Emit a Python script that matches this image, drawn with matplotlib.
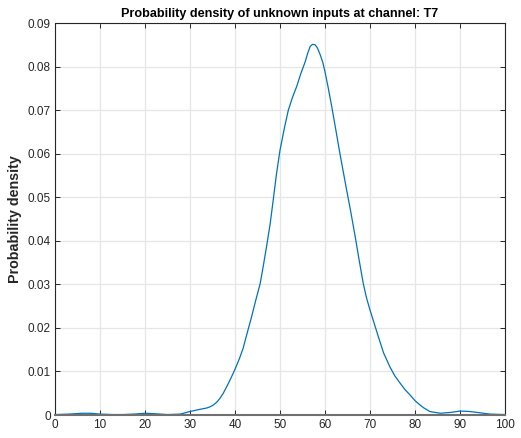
import matplotlib
matplotlib.use("Agg")
import matplotlib.pyplot as plt

x_vals = [0, 3, 6, 8, 10, 13, 15, 17.5, 20, 22, 25, 27.8, 30, 32.2, 33.7, 34.5, 35.2,
          36, 36.7, 37.4, 38.5, 39.2, 40, 41, 41.8, 42.7, 43.7, 44.6, 45.6, 46.3, 47,
          47.8, 48.5, 49.2, 50, 51, 51.85, 52.8, 53.7, 54.6, 55.6, 56.2, 56.7, 57.2,
          57.8, 58.3, 58.9, 59.5, 60, 60.7, 61.5, 62.4, 63.3, 64.8, 65.7, 66.7, 67.6,
          68.5, 69.2, 70, 71.85, 73, 74.4, 75.5, 76.7, 77.8, 78.9, 80, 81, 82, 83.3,
          85.6, 88, 90, 92.2, 94.5, 96.7, 100]
density = [0.0001, 0.0002, 0.0004, 0.0004, 0.0002, 0.0001, 0.0001, 0.0002, 0.0004,
           0.0003, 0.0001, 0.0002, 0.0008, 0.0013, 0.0016, 0.0019, 0.0023, 0.0030,
           0.0039, 0.0050, 0.0072, 0.0087, 0.0105, 0.0130, 0.0153, 0.0188, 0.0226,
           0.0263, 0.0302, 0.0343, 0.0386, 0.0438, 0.0494, 0.0552, 0.0608, 0.0660,
           0.0700, 0.0730, 0.0754, 0.0783, 0.0811, 0.0832, 0.0846, 0.0851, 0.0850,
           0.0843, 0.0828, 0.0810, 0.0788, 0.0752, 0.0708, 0.0655, 0.0601, 0.0517,
           0.0468, 0.0410, 0.0355, 0.0302, 0.0270, 0.0241, 0.0180, 0.0143, 0.0111,
           0.0090, 0.0073, 0.0058, 0.0046, 0.0033, 0.0024, 0.0016, 0.0008, 0.0004,
           0.0006, 0.0009, 0.0008, 0.0005, 0.0002, 0.0001]
xticks = list(range(0, 101, 10))
yticks = [0, 0.01, 0.02, 0.03, 0.04, 0.05, 0.06, 0.07, 0.08, 0.09]
ytick_labels = ["0", "0.01", "0.02", "0.03", "0.04", "0.05", "0.06", "0.07", "0.08", "0.09"]
title = "Probability density of unknown inputs at channel: T7"
ylabel = "Probability density"

plt.rcParams['font.family'] = ['Liberation Sans', 'DejaVu Sans']

fig = plt.figure(figsize=(5.21, 4.38), dpi=100)
ax = fig.add_axes([55/521, 1-415/438, 450/521, 392/438])
ax.plot(x_vals, density, color='#0072BD', lw=0.9)
ax.set_xlim(0, 100)
ax.set_ylim(0, 0.09)
ax.set_xticks(xticks)
ax.set_yticks(yticks)
ax.set_yticklabels(ytick_labels)
ax.grid(True, color='#e6e6e6', lw=0.9)
ax.set_axisbelow(True)
ax.tick_params(direction='in', length=3.5, width=0.7, top=True, right=True,
               labelsize=8.5, colors='#262626', pad=3)
for s in ['left', 'top', 'right']:
    ax.spines[s].set_color('#262626')
    ax.spines[s].set_linewidth(0.8)
ax.spines['bottom'].set_color('#707070')
ax.spines['bottom'].set_linewidth(1.5)
ax.set_title(title, fontsize=9.1, fontweight='bold', pad=4, color='black')
ax.set_ylabel(ylabel, fontsize=10.3, fontweight='bold', labelpad=4, color='#262626')
fig.savefig('out.png', dpi=100)
